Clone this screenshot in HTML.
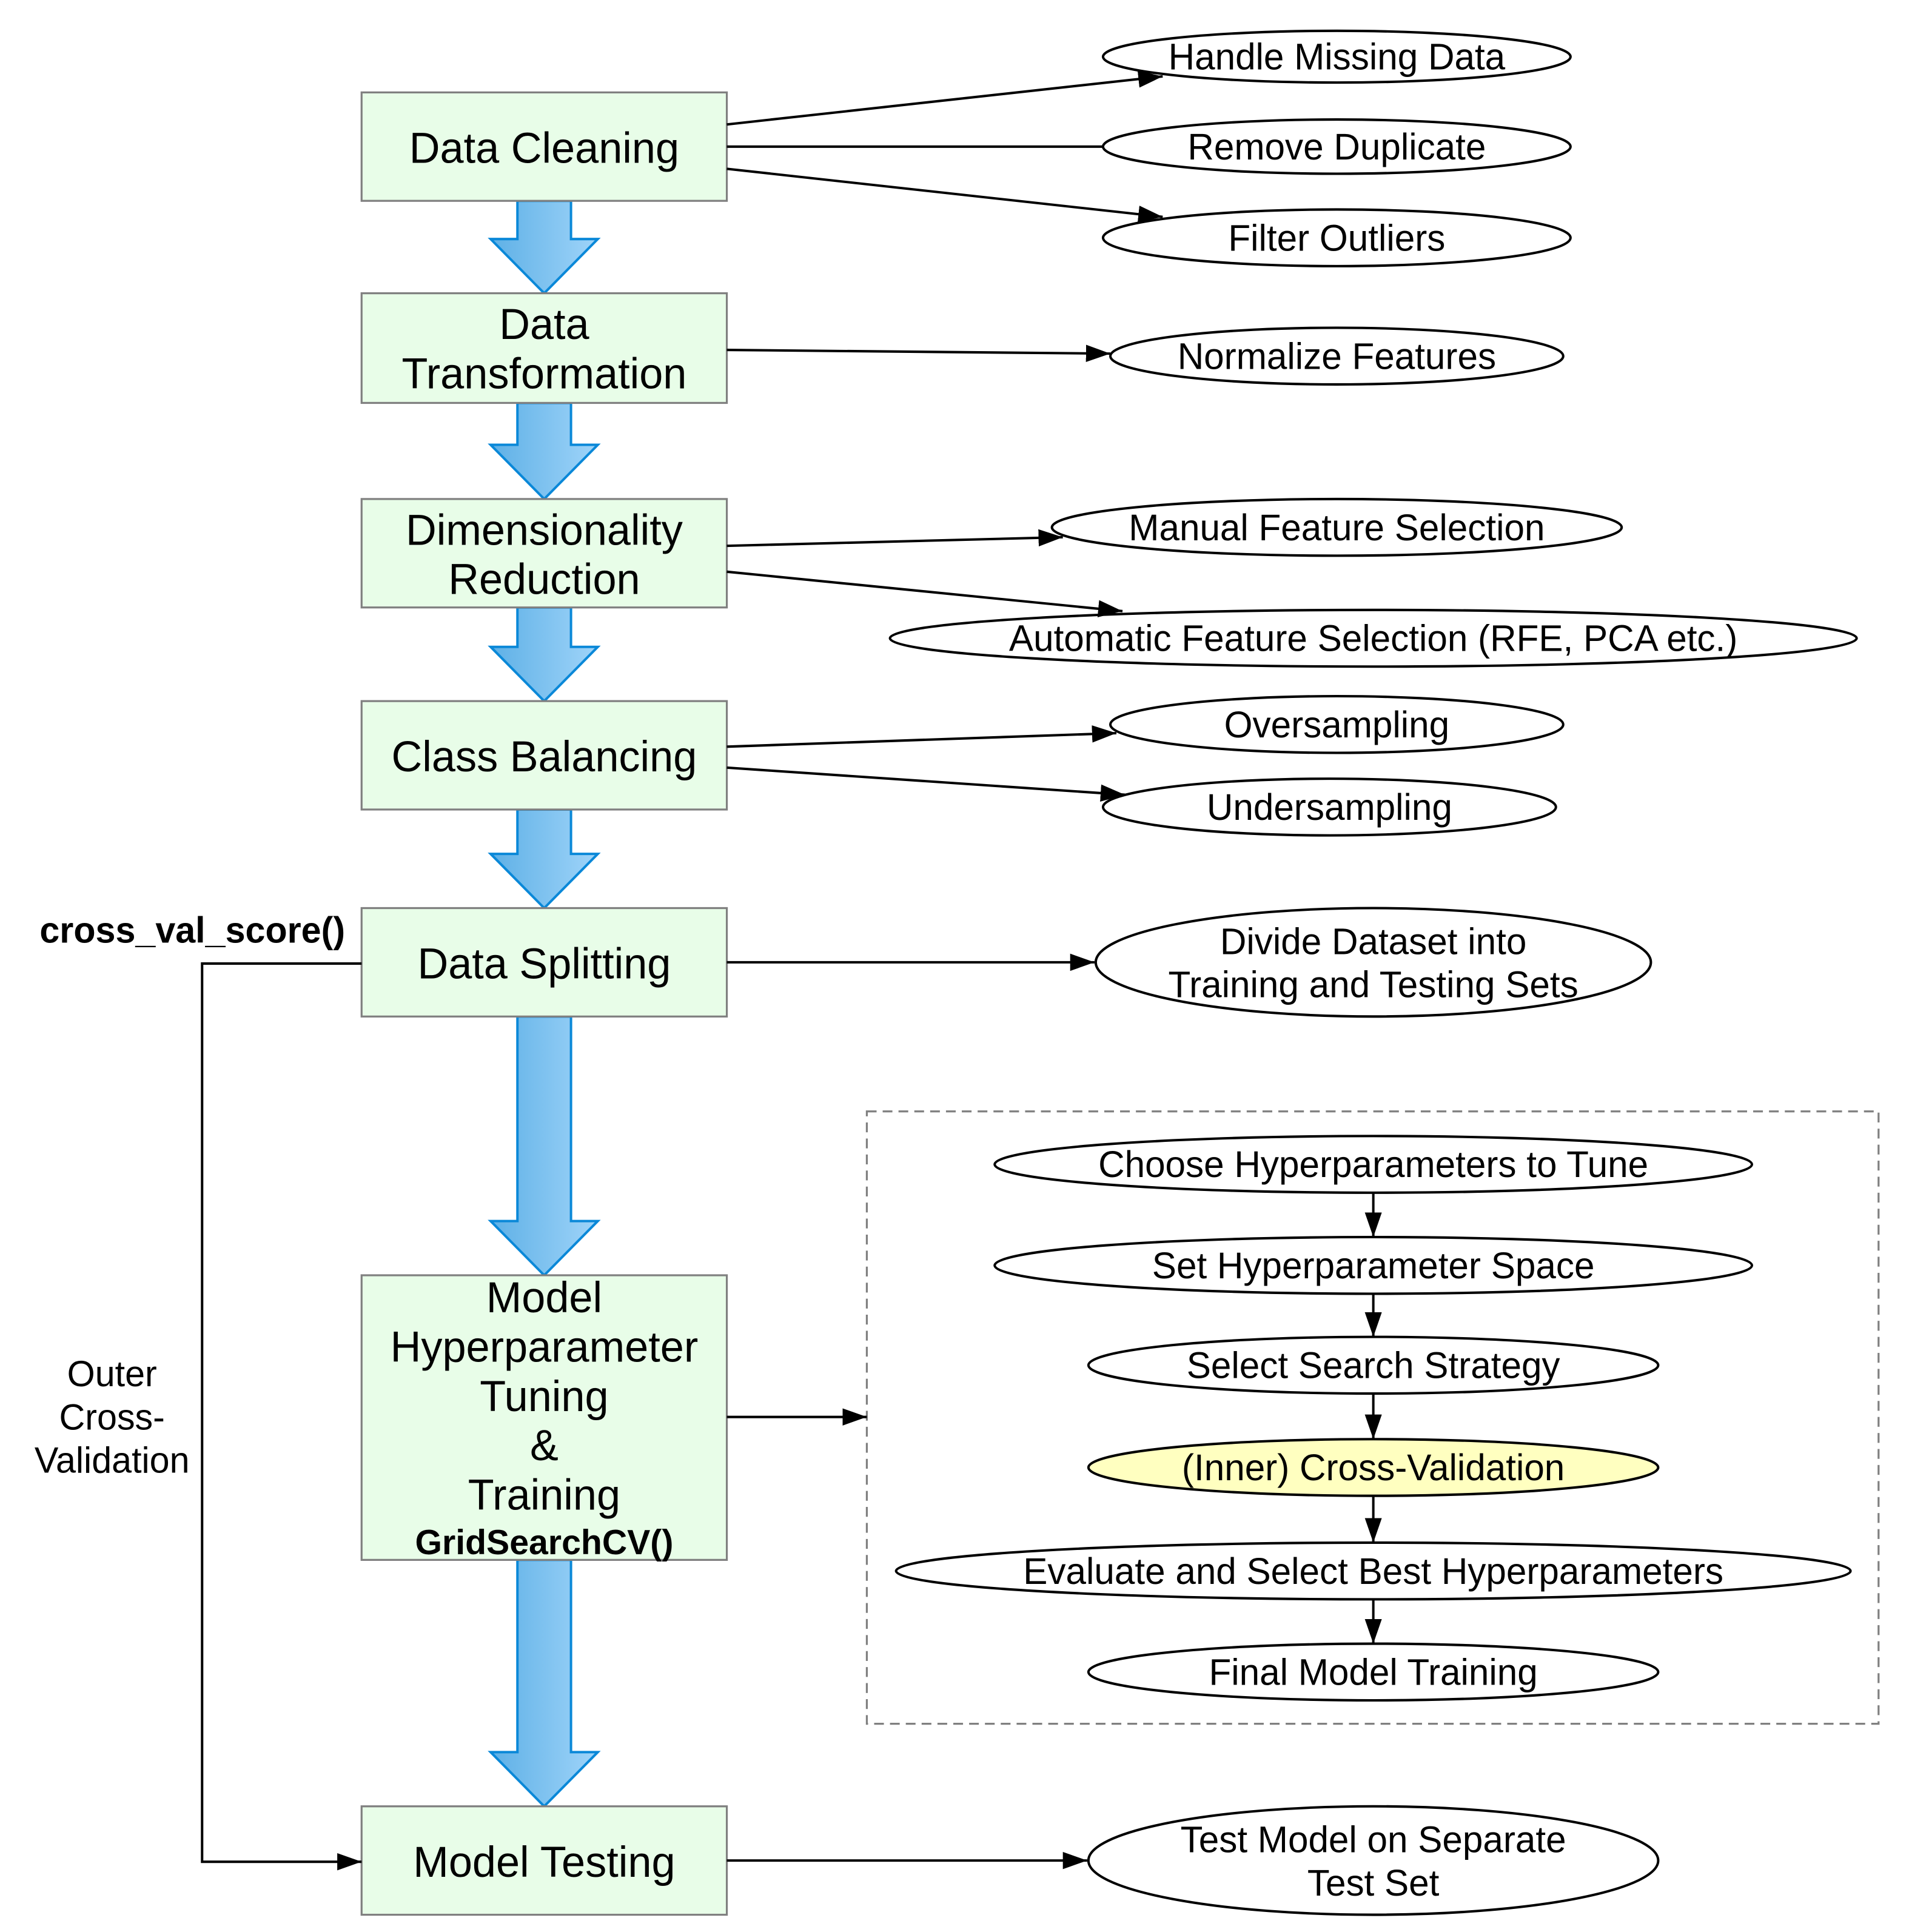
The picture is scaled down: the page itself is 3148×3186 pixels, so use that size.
<!DOCTYPE html>
<html><head><meta charset="utf-8"><style>
html,body{margin:0;padding:0;background:#fff;}
svg{display:block;}
text{font-family:"Liberation Sans",Arial,sans-serif;fill:#000;}
</style></head><body>
<svg width="3148" height="3186" viewBox="0 0 1568 1568" preserveAspectRatio="none" xmlns="http://www.w3.org/2000/svg">
<defs>
<linearGradient id="g" x1="0" y1="0" x2="1" y2="0">
<stop offset="0" stop-color="#5eb0e6"/><stop offset="1" stop-color="#9fd4f9"/>
</linearGradient>
<marker id="b" markerWidth="20" markerHeight="14" refX="20" refY="7" orient="auto" markerUnits="userSpaceOnUse" viewBox="0 0 20 14">
<path d="M0,0 L20,7 L0,14 z" fill="#000"/>
</marker>
</defs>

<g fill="url(#g)" stroke="#0a88d8" stroke-width="2" stroke-linejoin="miter">
<path d="M425,163 L469,163 L469,194 L491,194 L447,238 L403,194 L425,194 Z"/>
<path d="M425,327 L469,327 L469,361 L491,361 L447,405 L403,361 L425,361 Z"/>
<path d="M425,493 L469,493 L469,525 L491,525 L447,569 L403,525 L425,525 Z"/>
<path d="M425,657 L469,657 L469,693 L491,693 L447,737 L403,693 L425,693 Z"/>
<path d="M425,825 L469,825 L469,991 L491,991 L447,1035 L403,991 L425,991 Z"/>
<path d="M425,1266 L469,1266 L469,1422 L491,1422 L447,1466 L403,1422 L425,1422 Z"/>
</g>

<g fill="#e8fde8" stroke="#808080" stroke-width="1.6">
<rect x="297" y="75" width="300" height="88"/>
<rect x="297" y="238" width="300" height="89"/>
<rect x="297" y="405" width="300" height="88"/>
<rect x="297" y="569" width="300" height="88"/>
<rect x="297" y="737" width="300" height="88"/>
<rect x="297" y="1035" width="300" height="231"/>
<rect x="297" y="1466" width="300" height="88"/>
</g>
<g font-size="35" text-anchor="middle" dominant-baseline="central">
<text x="447" y="120">Data Cleaning</text>
<text x="447" y="263">Data</text>
<text x="447" y="303">Transformation</text>
<text x="447" y="430">Dimensionality</text>
<text x="447" y="470">Reduction</text>
<text x="447" y="614">Class Balancing</text>
<text x="447" y="782">Data Splitting</text>
<text x="447" y="1053">Model</text>
<text x="447" y="1093">Hyperparameter</text>
<text x="447" y="1133">Tuning</text>
<text x="447" y="1173">&amp;</text>
<text x="447" y="1213">Training</text>
<text x="447" y="1511">Model Testing</text>
</g>
<text x="447" y="1252" font-size="28.5" font-weight="bold" text-anchor="middle" dominant-baseline="central">GridSearchCV()</text>

<g fill="#fff" stroke="#000" stroke-width="2">
<ellipse cx="1098" cy="46" rx="192" ry="21"/>
<ellipse cx="1098" cy="119" rx="192" ry="22"/>
<ellipse cx="1098" cy="193" rx="192" ry="23"/>
<ellipse cx="1098" cy="289" rx="186" ry="23"/>
<ellipse cx="1098" cy="428" rx="234" ry="23"/>
<ellipse cx="1128" cy="518" rx="397" ry="23"/>
<ellipse cx="1098" cy="588" rx="186" ry="23"/>
<ellipse cx="1092" cy="655" rx="186" ry="23"/>
<ellipse cx="1128" cy="781" rx="228" ry="44"/>
<ellipse cx="1128" cy="1510" rx="234" ry="44"/>
<ellipse cx="1128" cy="945" rx="311" ry="23"/>
<ellipse cx="1128" cy="1027" rx="311" ry="23"/>
<ellipse cx="1128" cy="1108" rx="234" ry="23"/>
<ellipse cx="1128" cy="1191" rx="234" ry="23" fill="#ffffc0"/>
<ellipse cx="1128" cy="1275" rx="392" ry="23"/>
<ellipse cx="1128" cy="1357" rx="234" ry="23"/>
</g>
<g font-size="30" text-anchor="middle" dominant-baseline="central">
<text x="1098" y="46">Handle Missing Data</text>
<text x="1098" y="119">Remove Duplicate</text>
<text x="1098" y="193">Filter Outliers</text>
<text x="1098" y="289">Normalize Features</text>
<text x="1098" y="428">Manual Feature Selection</text>
<text x="1128" y="518">Automatic Feature Selection (RFE, PCA etc.)</text>
<text x="1098" y="588">Oversampling</text>
<text x="1092" y="655">Undersampling</text>
<text x="1128" y="764">Divide Dataset into</text>
<text x="1128" y="799">Training and Testing Sets</text>
<text x="1128" y="1493">Test Model on Separate</text>
<text x="1128" y="1528">Test Set</text>
<text x="1128" y="945">Choose Hyperparameters to Tune</text>
<text x="1128" y="1027">Set Hyperparameter Space</text>
<text x="1128" y="1108">Select Search Strategy</text>
<text x="1128" y="1191">(Inner) Cross-Validation</text>
<text x="1128" y="1275">Evaluate and Select Best Hyperparameters</text>
<text x="1128" y="1357">Final Model Training</text>
</g>

<rect x="712" y="902" width="831" height="497" fill="none" stroke="#808080" stroke-width="1.6" stroke-dasharray="8,5"/>

<g stroke="#000" stroke-width="2" fill="none">
<line x1="597" y1="101" x2="955" y2="62" marker-end="url(#b)"/>
<line x1="597" y1="119" x2="906" y2="119"/>
<line x1="597" y1="137" x2="955" y2="176" marker-end="url(#b)"/>
<line x1="597" y1="284" x2="912" y2="287" marker-end="url(#b)"/>
<line x1="597" y1="443" x2="873" y2="436" marker-end="url(#b)"/>
<line x1="597" y1="464" x2="922" y2="496" marker-end="url(#b)"/>
<line x1="597" y1="606" x2="917" y2="595" marker-end="url(#b)"/>
<line x1="597" y1="623" x2="924" y2="645" marker-end="url(#b)"/>
<line x1="597" y1="781" x2="899" y2="781" marker-end="url(#b)"/>
<line x1="597" y1="1150" x2="712" y2="1150" marker-end="url(#b)"/>
<line x1="597" y1="1510" x2="893" y2="1510" marker-end="url(#b)"/>
<polyline points="297,782 166,782 166,1511 297,1511" marker-end="url(#b)"/>
<line x1="1128" y1="968" x2="1128" y2="1004" marker-end="url(#b)"/>
<line x1="1128" y1="1050" x2="1128" y2="1085" marker-end="url(#b)"/>
<line x1="1128" y1="1131" x2="1128" y2="1168" marker-end="url(#b)"/>
<line x1="1128" y1="1214" x2="1128" y2="1252" marker-end="url(#b)"/>
<line x1="1128" y1="1298" x2="1128" y2="1334" marker-end="url(#b)"/>
</g>

<text x="158" y="755" font-size="29.5" font-weight="bold" text-anchor="middle" dominant-baseline="central">cross_val_score()</text>
<g font-size="29.5" text-anchor="middle" dominant-baseline="central">
<text x="92" y="1115">Outer</text>
<text x="92" y="1150">Cross-</text>
<text x="92" y="1185">Validation</text>
</g>
</svg>
</body></html>
